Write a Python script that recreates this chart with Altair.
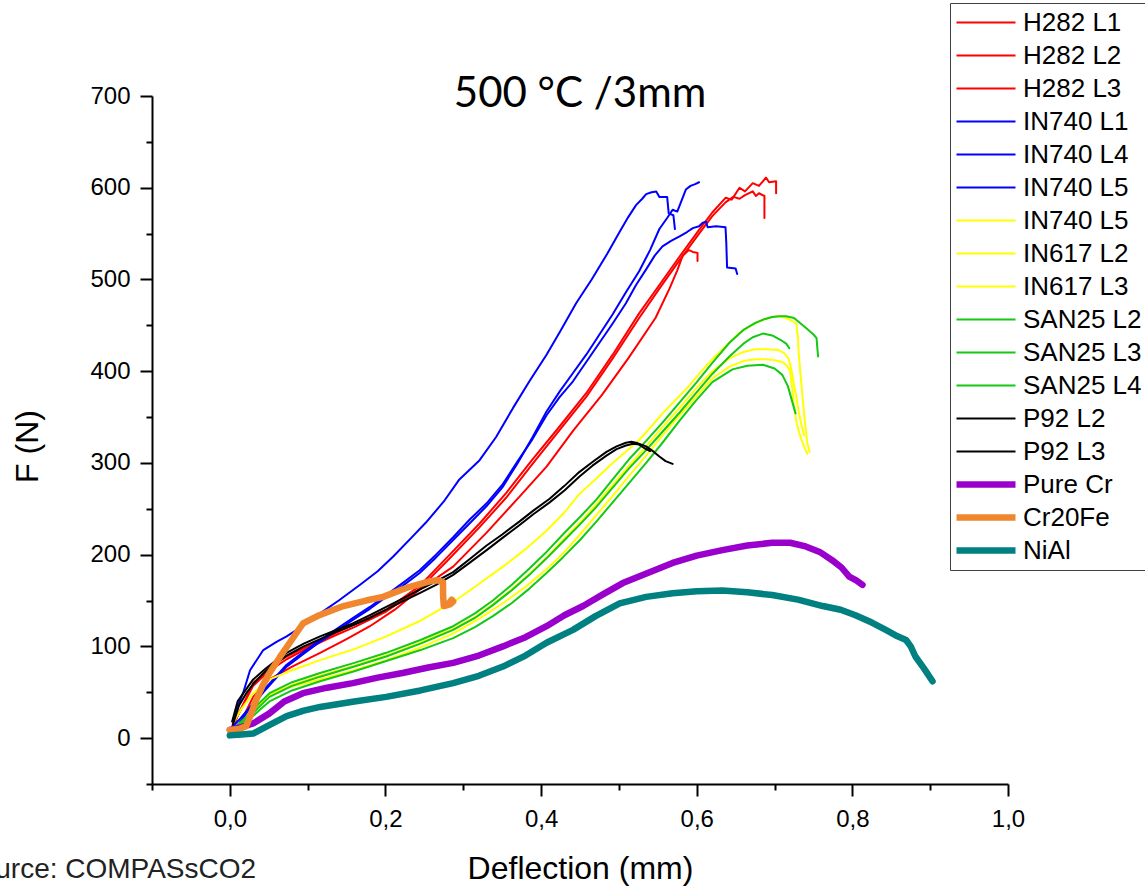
import altair as alt
import pandas as pd

# ---------------- data ----------------
H282_L1_X = [0.000, 0.010, 0.030, 0.050, 0.073, 0.100, 0.130, 0.160, 0.201, 0.244, 0.278, 0.321, 0.355, 0.389, 0.424, 0.458, 0.492, 0.526, 0.552, 0.578, 0.603, 0.620, 0.637, 0.645, 0.655, 0.662, 0.672, 0.680, 0.689, 0.693, 0.702, 0.702]
H282_L1_F = [6, 24, 60, 76, 89, 100, 112, 124, 140, 166, 196, 234, 267, 304, 340, 376, 418, 463, 494, 525, 554, 573, 589, 587, 600, 596, 605, 602, 611, 606, 607, 594]

H282_L2_X = [0.000, 0.012, 0.030, 0.050, 0.073, 0.100, 0.130, 0.160, 0.201, 0.244, 0.278, 0.321, 0.355, 0.389, 0.424, 0.458, 0.492, 0.526, 0.552, 0.578, 0.603, 0.620, 0.637, 0.647, 0.655, 0.662, 0.672, 0.676, 0.680, 0.687, 0.687]
H282_L2_F = [5, 28, 57, 73, 86, 98, 110, 121, 138, 163, 192, 230, 262, 299, 336, 372, 414, 458, 490, 521, 550, 569, 584, 590, 588, 592, 596, 591, 594, 591, 567]

H282_L3_X = [0.000, 0.013, 0.030, 0.051, 0.080, 0.116, 0.150, 0.180, 0.212, 0.244, 0.287, 0.330, 0.372, 0.407, 0.442, 0.478, 0.512, 0.547, 0.565, 0.575, 0.582, 0.590, 0.595, 0.601, 0.601]
H282_L3_F = [5, 16, 45, 64, 78, 93, 108, 122, 140, 162, 187, 224, 263, 296, 336, 374, 414, 458, 490, 510, 526, 532, 530, 529, 520]

IN740_L1_X = [0.003, 0.010, 0.017, 0.026, 0.043, 0.060, 0.073, 0.095, 0.116, 0.140, 0.167, 0.190, 0.210, 0.235, 0.252, 0.275, 0.295, 0.321, 0.342, 0.364, 0.385, 0.407, 0.425, 0.445, 0.465, 0.485, 0.501, 0.512, 0.522, 0.530, 0.535, 0.542, 0.548, 0.552, 0.562, 0.564, 0.570, 0.572]
IN740_L1_F = [12, 35, 49, 74, 96, 105, 111, 123, 136, 150, 167, 182, 198, 220, 235, 258, 282, 303, 328, 360, 389, 418, 444, 474, 500, 528, 552, 568, 581, 588, 593, 595, 596, 590, 590, 572, 570, 555]

IN740_L4_X = [0.004, 0.012, 0.021, 0.032, 0.043, 0.058, 0.073, 0.095, 0.116, 0.137, 0.158, 0.180, 0.201, 0.222, 0.244, 0.265, 0.287, 0.308, 0.330, 0.350, 0.370, 0.389, 0.407, 0.424, 0.441, 0.458, 0.475, 0.492, 0.509, 0.526, 0.540, 0.552, 0.562, 0.569, 0.575, 0.586, 0.592, 0.598, 0.603]
IN740_L4_F = [10, 16, 26, 38, 50, 64, 78, 92, 105, 117, 129, 141, 154, 166, 180, 197, 216, 234, 253, 273, 300, 328, 356, 378, 398, 418, 440, 462, 486, 509, 532, 555, 567, 576, 574, 598, 602, 604, 606]

IN740_L5_X = [0.004, 0.012, 0.021, 0.032, 0.043, 0.058, 0.073, 0.095, 0.116, 0.137, 0.158, 0.180, 0.201, 0.222, 0.244, 0.265, 0.287, 0.308, 0.330, 0.350, 0.370, 0.389, 0.407, 0.424, 0.441, 0.458, 0.475, 0.492, 0.509, 0.522, 0.535, 0.546, 0.556, 0.567, 0.578, 0.588, 0.595, 0.603, 0.608, 0.612, 0.614, 0.625, 0.637, 0.638, 0.639, 0.650, 0.652]
IN740_L5_F = [13, 20, 29, 40, 52, 66, 80, 94, 107, 119, 131, 143, 156, 169, 183, 200, 219, 238, 256, 276, 302, 326, 352, 372, 389, 410, 431, 452, 474, 494, 511, 526, 536, 542, 547, 552, 556, 558, 562, 563, 557, 558, 557, 540, 513, 512, 506]

IN740_L5Y_X = [0.004, 0.015, 0.030, 0.051, 0.080, 0.116, 0.160, 0.201, 0.245, 0.290, 0.320, 0.351, 0.380, 0.407, 0.430, 0.449, 0.471, 0.492, 0.510, 0.526, 0.542, 0.556, 0.572, 0.586, 0.603, 0.620, 0.638, 0.655, 0.670, 0.685, 0.697, 0.706, 0.715, 0.722, 0.728, 0.730, 0.731, 0.733, 0.736, 0.739, 0.742, 0.745]
IN740_L5Y_F = [16, 32, 49, 64, 74, 85, 97, 111, 128, 150, 168, 187, 206, 226, 246, 266, 283, 300, 313, 325, 340, 354, 368, 380, 397, 413, 428, 442, 450, 456, 459, 460, 458, 455, 452, 438, 420, 400, 372, 345, 322, 312]

IN617_L2_X = [0.003, 0.012, 0.026, 0.040, 0.051, 0.080, 0.116, 0.160, 0.201, 0.245, 0.287, 0.315, 0.338, 0.362, 0.385, 0.407, 0.428, 0.450, 0.471, 0.492, 0.513, 0.535, 0.556, 0.578, 0.599, 0.620, 0.642, 0.660, 0.675, 0.690, 0.705, 0.712, 0.718, 0.722, 0.725, 0.728, 0.731, 0.735, 0.738]
IN617_L2_F = [7, 15, 25, 37, 46, 58, 68, 79, 90, 104, 119, 132, 146, 162, 179, 197, 216, 235, 255, 276, 297, 318, 339, 360, 381, 400, 414, 421, 424, 424, 423, 420, 414, 400, 385, 372, 356, 340, 330]

IN617_L3_X = [0.003, 0.012, 0.030, 0.060, 0.116, 0.160, 0.201, 0.245, 0.287, 0.320, 0.351, 0.380, 0.407, 0.430, 0.450, 0.471, 0.492, 0.513, 0.535, 0.556, 0.578, 0.599, 0.620, 0.642, 0.660, 0.675, 0.690, 0.700, 0.710, 0.716, 0.720, 0.723, 0.725, 0.728, 0.732, 0.736, 0.740, 0.742]
IN617_L3_F = [5, 12, 34, 52, 64, 74, 85, 99, 114, 130, 147, 165, 184, 203, 222, 243, 264, 286, 308, 330, 352, 372, 392, 405, 411, 413, 413, 412, 410, 406, 400, 380, 362, 345, 332, 322, 314, 310]

SAN25_L2_X = [0.003, 0.012, 0.026, 0.040, 0.051, 0.080, 0.116, 0.160, 0.201, 0.245, 0.287, 0.315, 0.338, 0.362, 0.385, 0.407, 0.428, 0.450, 0.471, 0.492, 0.513, 0.535, 0.556, 0.578, 0.599, 0.620, 0.642, 0.660, 0.676, 0.688, 0.697, 0.706, 0.715, 0.725, 0.732, 0.742, 0.750, 0.754, 0.755, 0.756]
SAN25_L2_F = [8, 16, 27, 40, 49, 61, 71, 82, 93, 107, 122, 136, 150, 167, 185, 203, 222, 241, 260, 282, 304, 324, 344, 366, 387, 409, 431, 445, 453, 457, 459, 460, 460, 458, 453, 446, 440, 436, 425, 416]

SAN25_L3_X = [0.003, 0.012, 0.026, 0.040, 0.051, 0.080, 0.116, 0.160, 0.201, 0.245, 0.287, 0.315, 0.338, 0.362, 0.385, 0.407, 0.428, 0.450, 0.471, 0.492, 0.513, 0.535, 0.556, 0.578, 0.599, 0.620, 0.642, 0.660, 0.672, 0.685, 0.697, 0.708, 0.715, 0.719]
SAN25_L3_F = [6, 14, 24, 36, 45, 57, 67, 78, 89, 103, 118, 131, 145, 161, 178, 196, 214, 233, 252, 273, 294, 314, 334, 355, 376, 397, 416, 430, 437, 441, 439, 434, 430, 425]

SAN25_L4_X = [0.003, 0.012, 0.026, 0.040, 0.051, 0.080, 0.116, 0.160, 0.201, 0.245, 0.287, 0.315, 0.338, 0.362, 0.385, 0.407, 0.428, 0.450, 0.471, 0.492, 0.513, 0.535, 0.556, 0.578, 0.599, 0.620, 0.646, 0.665, 0.685, 0.700, 0.710, 0.717, 0.721, 0.725, 0.727]
SAN25_L4_F = [5, 12, 21, 32, 40, 52, 62, 73, 84, 96, 109, 121, 133, 147, 163, 180, 197, 216, 236, 257, 278, 300, 322, 346, 368, 388, 402, 406, 407, 403, 396, 384, 372, 360, 354]

P92_L2_X = [0.003, 0.010, 0.020, 0.030, 0.045, 0.060, 0.073, 0.095, 0.116, 0.137, 0.158, 0.180, 0.201, 0.222, 0.244, 0.265, 0.287, 0.308, 0.330, 0.350, 0.372, 0.390, 0.411, 0.430, 0.449, 0.466, 0.484, 0.497, 0.509, 0.516, 0.522, 0.535, 0.545, 0.552, 0.560, 0.569]
P92_L2_F = [18, 40, 52, 64, 75, 85, 93, 103, 111, 118, 125, 134, 143, 152, 162, 171, 181, 195, 210, 222, 236, 248, 261, 275, 290, 301, 312, 318, 322, 323, 322, 318, 312, 307, 302, 299]

P92_L3_X = [0.004, 0.012, 0.022, 0.032, 0.045, 0.060, 0.073, 0.095, 0.116, 0.137, 0.158, 0.180, 0.201, 0.222, 0.244, 0.265, 0.287, 0.308, 0.330, 0.350, 0.372, 0.390, 0.411, 0.430, 0.449, 0.466, 0.484, 0.497, 0.509, 0.518, 0.526, 0.533, 0.540]
P92_L3_F = [15, 36, 50, 61, 72, 82, 90, 100, 108, 116, 123, 131, 140, 149, 158, 167, 178, 191, 205, 218, 232, 244, 257, 270, 285, 297, 308, 315, 319, 321, 320, 316, 313]

PURE_CR_X = [0.000, 0.015, 0.030, 0.051, 0.070, 0.094, 0.125, 0.158, 0.190, 0.222, 0.255, 0.287, 0.320, 0.351, 0.380, 0.407, 0.430, 0.454, 0.480, 0.505, 0.537, 0.569, 0.600, 0.633, 0.665, 0.697, 0.720, 0.740, 0.758, 0.774, 0.786, 0.796, 0.805, 0.813]
PURE_CR_F = [9, 12, 16, 27, 40, 49, 55, 60, 66, 71, 77, 82, 90, 100, 110, 122, 134, 144, 157, 169, 180, 191, 199, 205, 210, 213, 213, 209, 203, 194, 186, 176, 172, 167]

CR20FE_X = [0.000, 0.012, 0.021, 0.028, 0.034, 0.042, 0.051, 0.064, 0.077, 0.094, 0.115, 0.146, 0.175, 0.197, 0.231, 0.257, 0.268, 0.274, 0.274, 0.275, 0.280, 0.285, 0.287, 0.283]
CR20FE_F = [9, 10, 13, 28, 42, 57, 71, 88, 104, 125, 134, 144, 150, 154, 165, 171, 172, 170, 156, 144, 145, 151, 149, 146]

NIAL_X = [0.000, 0.015, 0.030, 0.050, 0.073, 0.095, 0.116, 0.160, 0.201, 0.245, 0.287, 0.320, 0.351, 0.380, 0.407, 0.441, 0.470, 0.501, 0.535, 0.569, 0.600, 0.633, 0.665, 0.697, 0.730, 0.762, 0.785, 0.804, 0.825, 0.843, 0.858, 0.869, 0.875, 0.881, 0.892, 0.903]
NIAL_F = [3, 4, 5, 14, 24, 30, 34, 40, 45, 52, 60, 68, 78, 90, 104, 118, 133, 147, 154, 158, 160, 161, 159, 156, 151, 144, 140, 134, 126, 118, 111, 107, 100, 89, 76, 62]

# series keys (legend order); the yellow "IN740 L5" needs its own key
KEYS = ["H282 L1", "H282 L2", "H282 L3", "IN740 L1", "IN740 L4", "IN740 L5",
        "IN740 L5 (yellow)", "IN617 L2", "IN617 L3", "SAN25 L2", "SAN25 L3", "SAN25 L4",
        "P92 L2", "P92 L3", "Pure Cr", "Cr20Fe", "NiAl"]
XS = [H282_L1_X, H282_L2_X, H282_L3_X, IN740_L1_X, IN740_L4_X, IN740_L5_X,
      IN740_L5Y_X, IN617_L2_X, IN617_L3_X, SAN25_L2_X, SAN25_L3_X, SAN25_L4_X,
      P92_L2_X, P92_L3_X, PURE_CR_X, CR20FE_X, NIAL_X]
FS = [H282_L1_F, H282_L2_F, H282_L3_F, IN740_L1_F, IN740_L4_F, IN740_L5_F,
      IN740_L5Y_F, IN617_L2_F, IN617_L3_F, SAN25_L2_F, SAN25_L3_F, SAN25_L4_F,
      P92_L2_F, P92_L3_F, PURE_CR_F, CR20FE_F, NIAL_F]

X_TICKS = [0.0, 0.2, 0.4, 0.6, 0.8, 1.0]
X_MINOR = [-0.1, 0.1, 0.3, 0.5, 0.7, 0.9]
Y_TICKS = [0, 100, 200, 300, 400, 500, 600, 700]
Y_MINOR = [-50, 50, 150, 250, 350, 450, 550, 650]

TITLE = "500 °C /3mm"
SOURCE = "Source: COMPASsCO2"

# ---------------- styles ----------------
RED, BLUE, YELLOW, GREEN, BLACK = "#FF0000", "#0000FF", "#FFFF00", "#14C814", "#000000"
COLORS = [RED] * 3 + [BLUE] * 3 + [YELLOW] * 3 + [GREEN] * 3 + [BLACK] * 2 + ["#9900CC", "#F0862E", "#008080"]
THIN, THICK = 2.0, 6.5
WIDTHS = [THIN] * 14 + [THICK] * 3
FONT = "Liberation Sans"

rows = []
for key, xs, fs in zip(KEYS, XS, FS):
    assert len(xs) == len(fs), key
    for i, (x, f) in enumerate(zip(xs, fs)):
        rows.append({"series": key, "x": x, "F": f, "i": i})
df = pd.DataFrame(rows)
df_thin = df[df["series"].isin(KEYS[:14])]
df_thick = df[df["series"].isin(KEYS[14:])]

W, H = 856, 688
PAD_L, PAD_T = 152, 96

xscale = alt.Scale(domain=[-0.1, 1.0], nice=False, zero=False)
yscale = alt.Scale(domain=[-50, 700], nice=False, zero=False)

legend = alt.Legend(
    title=None, orient="none", legendX=950 - PAD_L, legendY=3 - PAD_T,
    symbolType="stroke", symbolSize=3481, labelFontSize=26, labelFont=FONT,
    labelColor="black", strokeColor="#404040", fillColor="white",
    padding=3, rowPadding=0, clipHeight=33, labelLimit=400,
    labelExpr="replace(datum.label, ' (yellow)', '')",
)
color = alt.Color("series:N", scale=alt.Scale(domain=KEYS, range=COLORS), legend=legend)
swidth = alt.StrokeWidth("series:N", scale=alt.Scale(type="ordinal", domain=KEYS, range=WIDTHS), legend=legend)

common_axis = dict(grid=False, domainColor="black", tickColor="black", tickWidth=2,
                   domainWidth=2, labelColor="black", titleColor="black")

x_major = alt.Axis(values=X_TICKS, orient="bottom", tickSize=12, labelFontSize=24, labelFont=FONT,
                   labelPadding=11, labelFlush=False, labelOverlap=False,
                   labelExpr="replace(format(datum.value, '.1f'), '.', ',')",
                   title="Deflection (mm)", titleFont=FONT, titleFontSize=32, titleFontWeight="normal",
                   titleY=94, titleBaseline="alphabetic", **common_axis)
x_minor = alt.Axis(values=X_MINOR, orient="bottom", tickSize=6, labels=False, domain=False,
                   title=None, **common_axis)
y_major = alt.Axis(values=Y_TICKS, orient="left", tickSize=12, labelFontSize=24, labelFont=FONT,
                   labelPadding=10, labelFlush=False, labelOverlap=False,
                   title="F (N)", titleFont=FONT, titleFontSize=32, titleFontWeight="normal",
                   titleAngle=270, titleX=-115, titleY=350, titleAlign="center",
                   titleBaseline="alphabetic", **common_axis)
y_minor = alt.Axis(values=Y_MINOR, orient="left", tickSize=6, labels=False, domain=False,
                   title=None, **common_axis)

thin = alt.Chart(df_thin).mark_line(strokeJoin="round", strokeCap="round").encode(
    x=alt.X("x:Q", scale=xscale, axis=x_major),
    y=alt.Y("F:Q", scale=yscale, axis=y_major),
    color=color, strokeWidth=swidth, order=alt.Order("i:Q"),
)
thick = alt.Chart(df_thick).mark_line(strokeJoin="round", strokeCap="round").encode(
    x=alt.X("x:Q", scale=xscale, axis=x_minor),
    y=alt.Y("F:Q", scale=yscale, axis=y_minor),
    color=color, strokeWidth=swidth, order=alt.Order("i:Q"),
)

texts = pd.DataFrame({"t": [TITLE], "s": [SOURCE]})
title_text = alt.Chart(texts).mark_text(
    align="center", baseline="alphabetic", fontSize=42, font="Lato", color="black"
).encode(x=alt.value(428), y=alt.value(11), text="t:N")
source_text = alt.Chart(texts).mark_text(
    align="left", baseline="alphabetic", fontSize=28, font=FONT, color="#222222"
).encode(x=alt.value(-191), y=alt.value(782), text="s:N")

chart = (
    alt.layer(thin, thick, title_text, source_text)
    .resolve_axis(x="independent", y="independent")
    .properties(
        width=W, height=H,
        padding={"left": PAD_L, "top": PAD_T, "right": 1145 - PAD_L - W, "bottom": 886 - PAD_T - H},
        autosize=alt.AutoSizeParams(type="none"),
        background="white",
    )
    .configure_view(stroke=None)
)

chart.save("out.html", embed_options={"renderer": "svg", "actions": False})
